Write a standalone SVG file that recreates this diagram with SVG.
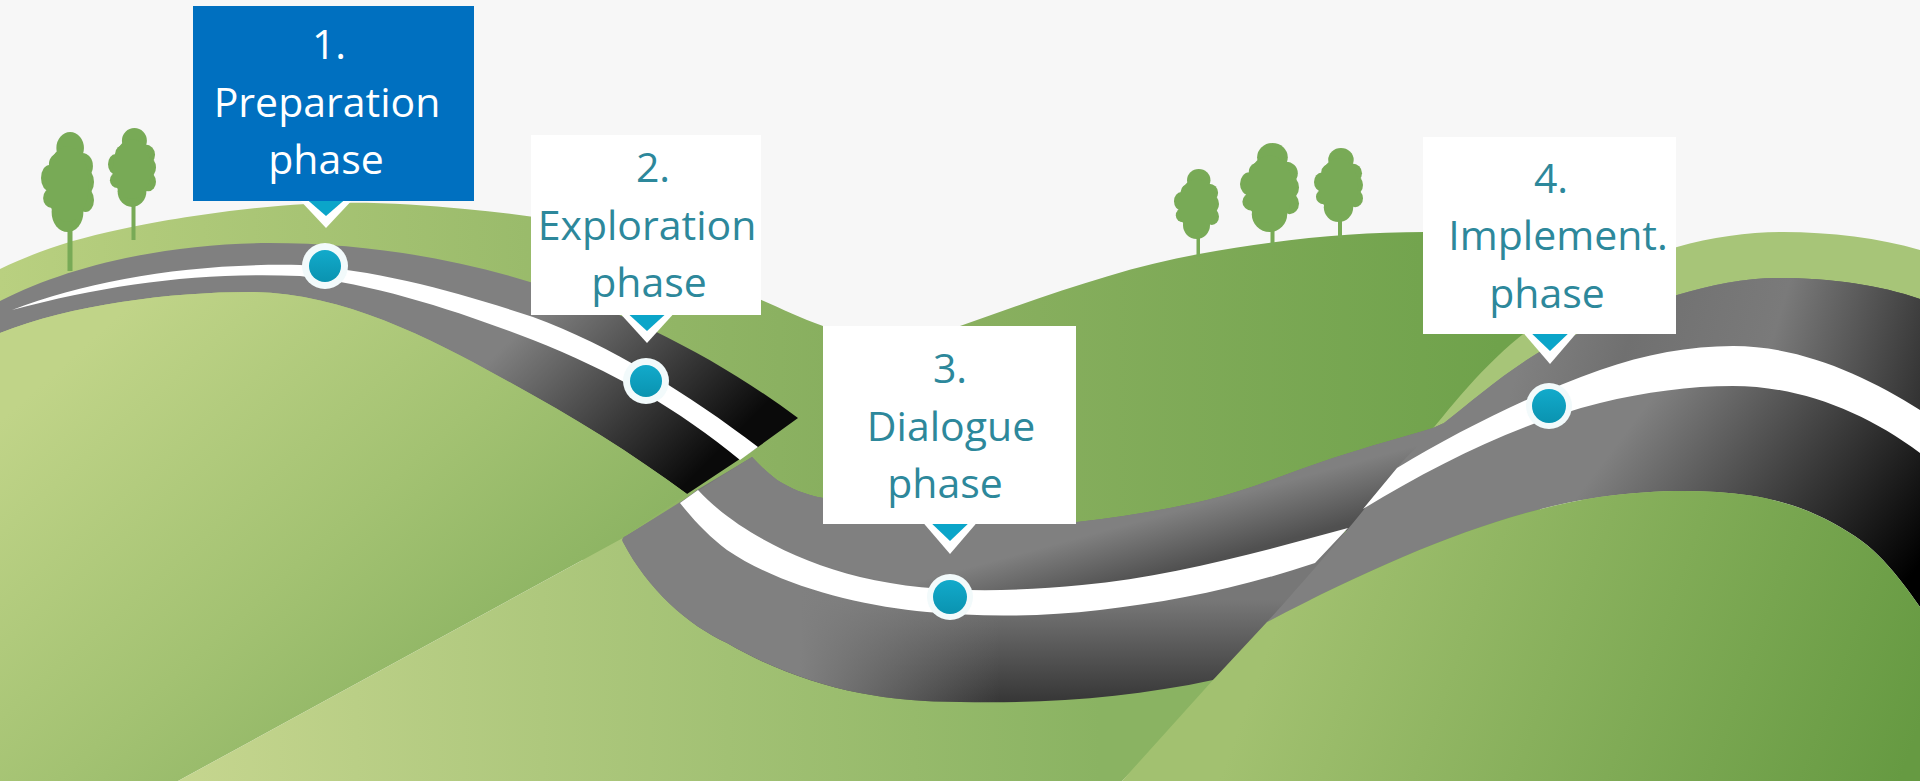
<svg xmlns="http://www.w3.org/2000/svg" width="1920" height="781" viewBox="0 0 1920 781">
<style>
.t{font-family:"Open Sans","Noto Sans",sans-serif;font-size:41px;text-anchor:middle;fill:#2d889b}
.w{fill:#fff}
.ring{fill:#f2fafb}
.dot{fill:url(#dot)}
.dw{fill:#fff}
.db{fill:#0ba5c9}
.tree{fill:#78aa56}
</style>
<defs>
<linearGradient id="backL" gradientUnits="userSpaceOnUse" x1="0" y1="0" x2="830" y2="0"><stop offset="0" stop-color="#b9d080"/><stop offset="1" stop-color="#88af5f"/></linearGradient>
<linearGradient id="backD" gradientUnits="userSpaceOnUse" x1="960" y1="0" x2="1500" y2="0"><stop offset="0" stop-color="#8ab060"/><stop offset="1" stop-color="#6fa24b"/></linearGradient>
<linearGradient id="hillL" gradientUnits="userSpaceOnUse" x1="90" y1="340" x2="430" y2="720"><stop offset="0" stop-color="#c0d488"/><stop offset=".6" stop-color="#a3c272"/><stop offset="1" stop-color="#8db463"/></linearGradient>
<linearGradient id="hillM" gradientUnits="userSpaceOnUse" x1="170" y1="0" x2="1100" y2="0"><stop offset="0" stop-color="#c6d68f"/><stop offset="1" stop-color="#8ab362"/></linearGradient>
<linearGradient id="hillR" gradientUnits="userSpaceOnUse" x1="1300" y1="560" x2="1900" y2="781"><stop offset="0" stop-color="#a2c170"/><stop offset="1" stop-color="#669a42"/></linearGradient>
<linearGradient id="road1" gradientUnits="userSpaceOnUse" x1="540" y1="310" x2="700" y2="470"><stop offset="0" stop-color="#808080"/><stop offset="1" stop-color="#0a0a0a"/></linearGradient>
<linearGradient id="road3" gradientUnits="userSpaceOnUse" x1="0" y1="600" x2="0" y2="715"><stop offset="0" stop-color="#777"/><stop offset="1" stop-color="#2e2e2e"/></linearGradient>
<linearGradient id="road3f" gradientUnits="userSpaceOnUse" x1="800" y1="0" x2="1000" y2="0"><stop offset="0" stop-color="#808080"/><stop offset="1" stop-color="#808080" stop-opacity="0"/></linearGradient>
<linearGradient id="road3t" gradientUnits="userSpaceOnUse" x1="1180" y1="510" x2="1195" y2="565"><stop offset="0" stop-color="#808080"/><stop offset="1" stop-color="#505050"/></linearGradient>
<linearGradient id="road4" gradientUnits="userSpaceOnUse" x1="1650" y1="400" x2="1900" y2="590"><stop offset="0" stop-color="#808080"/><stop offset="1" stop-color="#000"/></linearGradient>
<linearGradient id="road4t" gradientUnits="userSpaceOnUse" x1="1540" y1="290" x2="1920" y2="400"><stop offset="0" stop-color="#808080"/><stop offset=".25" stop-color="#707070"/><stop offset=".6" stop-color="#7a7a7a"/><stop offset="1" stop-color="#333"/></linearGradient>
<linearGradient id="dot" x1="0" y1="0" x2="0" y2="1"><stop offset="0" stop-color="#12aacb"/><stop offset="1" stop-color="#0a93b0"/></linearGradient>
<g id="crown"><ellipse cx="55" cy="16" rx="26" ry="16"/><ellipse cx="35" cy="32" rx="20" ry="11"/><ellipse cx="78" cy="34" rx="20" ry="13"/><ellipse cx="16" cy="46" rx="16" ry="13"/><ellipse cx="84" cy="50" rx="16" ry="13"/><ellipse cx="20" cy="66" rx="16" ry="10"/><ellipse cx="84" cy="68" rx="16" ry="12"/><ellipse cx="50" cy="80" rx="30" ry="20"/><ellipse cx="50" cy="52" rx="40" ry="38"/></g>
</defs>
<rect id="sky" width="1920" height="781" fill="#f7f7f7"/>
<g id="hills-back">
<path fill="url(#backD)" d="M900,355 L960,326 C1040,298 1120,268 1199,254 C1275,240 1350,232 1425,232 L1540,232 L1540,620 L900,620 Z"/>
<path fill="#a7c578" d="M1400,470 C1440,420 1470,380 1511,344 C1570,295 1625,262 1677,247 C1712,237 1750,232 1783,232 C1830,232 1880,238 1920,250 L1920,500 L1400,500 Z"/>
<path fill="url(#backL)" d="M0,269 C40,250 71,240 122,229 C173,218 249,207 306,204 C363,201 414,204 465,209 C516,214 563,219 612,234 C661,249 724,284 759,299 C780,308 800,318 823,326 L900,370 L900,560 L0,560 Z"/>
</g>
<g id="trees" class="tree">
<rect x="67.500" y="225" width="5" height="46"/><rect x="131.500" y="200" width="4" height="40"/><rect x="1196.500" y="235" width="3.500" height="22"/><rect x="1270.500" y="228" width="4" height="18"/><rect x="1338" y="218" width="4" height="20"/>
<use href="#crown" transform="translate(41 132) scale(.53 1)"/>
<use href="#crown" transform="translate(108 128) scale(.48 .79)"/>
<use href="#crown" transform="translate(1174 169) scale(.45 .7)"/>
<use href="#crown" transform="translate(1240 143) scale(.59 .89)"/>
<use href="#crown" transform="translate(1314 148) scale(.49 .74)"/>
</g>
<g id="road-1">
<path fill="url(#road1)" d="M0,301 C70,265 170,243 269,243 C360,243 450,257 530,282 C630,313 720,360 798,418 L758,447 L687,494 C630,452 570,415 500,377 C430,338 340,292 250,292 C170,292 70,305 0,333 Z"/>
<path class="w" d="M12,310 C90,280 190,263 300,265 C380,270 460,293 533,317 C610,345 690,395 758,447 L740,460 C680,410 610,370 533,340 C460,312 380,285 300,276 C200,272 110,284 12,310 Z"/>
</g>
<path id="hill-left" fill="url(#hillL)" d="M0,333 C70,305 170,292 250,292 C340,292 430,338 500,377 C570,415 630,452 687,494 L623,538 L178,781 L0,781 Z"/>
<path id="hill-mid" fill="url(#hillM)" d="M178,781 L623,538 L800,600 L1300,600 L1122,781 Z"/>
<g id="road-3">
<path fill="url(#road3)" d="M626,536 L680,503 L697,490 L752,457 C760,466 768,473 777,480 C790,488 805,495 823,498 L1077,522 C1120,517 1165,510 1207,500 C1250,490 1290,472 1333,458 C1370,446 1400,438 1433,428 L1444,423 L1352,518 L1300,620 L1213,680 C1130,698 1040,704 960,702 C925,702 890,699 860,693 C815,684 770,668 727,643 C688,625 648,590 623,542 Q621,538 626,536 Z"/>
<path fill="url(#road3f)" d="M626,536 L752,457 C760,466 768,473 777,480 C790,488 805,495 823,498 L1000,520 L1000,704 L960,702 C925,702 890,699 860,693 C815,684 770,668 727,643 C688,625 648,590 623,542 Q621,538 626,536 Z"/>
<path fill="url(#road3t)" d="M752,457 C760,466 768,473 777,480 C790,488 805,495 823,498 L1077,522 C1120,517 1165,510 1207,500 C1250,490 1290,472 1333,458 C1370,446 1400,438 1433,428 L1444,423 L1349,530 L1205,575 L1082,592 L927,594 L750,545 Z"/>
<path class="w" d="M698,490 C730,525 790,560 860,577 C930,594 1010,592 1082,585 C1170,577 1260,552 1348,528 L1315,563 C1240,588 1170,602 1100,610 C1040,617 980,617 927,612 C860,606 780,586 727,550 C710,537 695,522 680,503 Z"/>
</g>
<g id="road-4">
<path fill="url(#road4)" d="M1267,622 C1310,575 1355,522 1397,468 C1410,452 1428,437 1444,423 C1480,395 1530,350 1578,334 C1610,318 1640,306 1677,295 C1710,285 1745,278 1777,278 C1830,278 1880,285 1920,299 L1920,607 C1908,590 1897,575 1883,560 C1870,546 1855,535 1833,523 C1800,505 1765,495 1717,492 C1680,490 1645,491 1600,497 C1500,512 1390,558 1267,622 Z"/>
<path fill="url(#road4t)" d="M1444,423 C1480,395 1530,350 1578,334 C1610,318 1640,306 1677,295 C1710,285 1745,278 1777,278 C1830,278 1880,285 1920,299 L1920,430 L1733,360 L1600,385 L1400,480 Z"/>
<path class="w" d="M1363,509 L1397,468 C1460,430 1530,395 1600,370 C1645,354 1690,346 1733,346 C1800,346 1865,375 1920,410 L1920,453 C1865,412 1800,386 1733,386 C1690,386 1645,392 1600,403 C1520,423 1440,462 1363,509 Z"/>
</g>
<path id="hill-right" fill="url(#hillR)" d="M1122,781 L1213,680 L1267,622 C1390,558 1500,512 1600,497 C1645,491 1680,490 1717,492 C1765,495 1800,505 1833,523 C1855,535 1870,546 1883,560 C1897,575 1908,590 1920,607 L1920,781 Z"/>
<g id="node-1">
<path class="dw" d="M296,196 L326,228 L356,196 Z"/><path class="db" d="M303,196 L326,216 L349,196 Z"/>
<circle class="ring" cx="325" cy="266" r="23"/><circle class="dot" cx="325" cy="266" r="16"/>
<rect x="193" y="6" width="281" height="195" fill="#0070c0"/>
<text class="t" x="329" y="59" style="fill:#fff">1.</text><text class="t" x="327" y="117" style="fill:#fff">Preparation</text><text class="t" x="326" y="174" style="fill:#fff">phase</text>
</g>
<g id="node-2">
<path class="dw" d="M617,310 L647,343 L677,310 Z"/><path class="db" d="M624,310 L647,331 L670,310 Z"/>
<circle class="ring" cx="646" cy="381" r="23"/><circle class="dot" cx="646" cy="381" r="16"/>
<rect x="531" y="135" width="230" height="180" fill="#fff"/>
<text class="t" x="653" y="182">2.</text><text class="t" x="647" y="240">Exploration</text><text class="t" x="649" y="297">phase</text>
</g>
<g id="node-3">
<path class="dw" d="M920,519 L950,554 L980,519 Z"/><path class="db" d="M927,519 L950,541 L973,519 Z"/>
<circle class="ring" cx="950" cy="597" r="23"/><circle class="dot" cx="950" cy="597" r="17"/>
<rect x="823" y="326" width="253" height="198" fill="#fff"/>
<text class="t" x="950" y="383">3.</text><text class="t" x="951" y="441">Dialogue</text><text class="t" x="945" y="498">phase</text>
</g>
<g id="node-4">
<path class="dw" d="M1520,329 L1550,364 L1580,329 Z"/><path class="db" d="M1527,329 L1550,351 L1573,329 Z"/>
<circle class="ring" cx="1549" cy="406" r="23"/><circle class="dot" cx="1549" cy="406" r="17"/>
<rect x="1423" y="137" width="253" height="197" fill="#fff"/>
<text class="t" x="1551" y="193">4.</text><text class="t" x="1558" y="250">Implement.</text><text class="t" x="1547" y="308">phase</text>
</g>
</svg>
